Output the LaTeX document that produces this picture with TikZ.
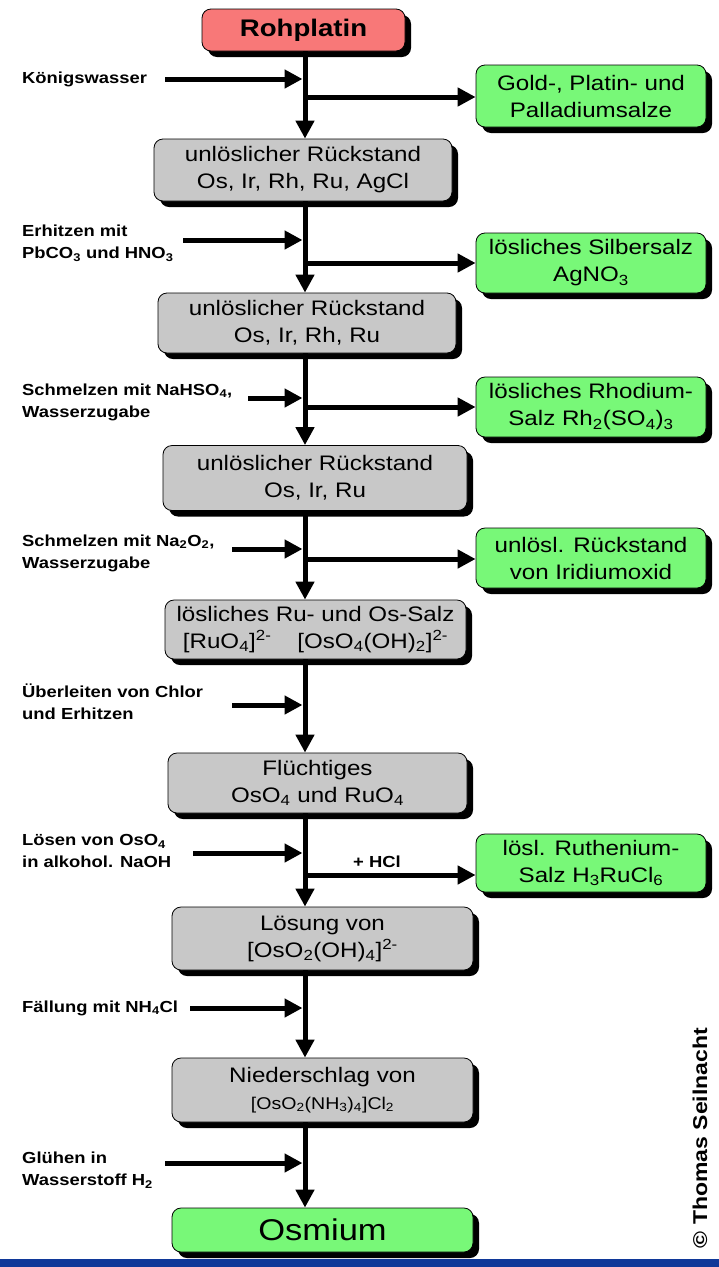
\documentclass[tikz,border=0pt]{standalone}
\usepackage{fontspec}
\setmainfont{Liberation Sans}
\newfontfamily\boxfont{Liberation Sans}[FakeStretch=1.15]
\newfontfamily\lblfont{Liberation Sans}[FakeStretch=1.15]
\usetikzlibrary{arrows.meta,shadows}
\definecolor{rohred}{RGB}{248,120,120}
\definecolor{stepgreen}{RGB}{120,248,120}
\definecolor{stepgray}{RGB}{200,200,200}
\definecolor{barblue}{RGB}{16,56,152}
\begin{document}
\begin{tikzpicture}[x=1pt,y=-1pt,every node/.style={inner sep=0pt},
  box/.style={draw,line width=0.8pt,rounded corners=9pt,align=center,
    font=\boxfont\fontsize{21}{27}\selectfont,
    drop shadow={shadow xshift=6pt,shadow yshift=-6pt,opacity=1,fill=black}},
  greybox/.style={box,fill=stepgray},
  greenbox/.style={box,fill=stepgreen,minimum width=230pt},
  lbl/.style={anchor=west,align=left,font=\lblfont\bfseries\fontsize{16}{22}\selectfont},
  feed/.style={line width=5pt,-{Triangle[length=18pt,width=18pt]}},
  tap/.style={feed,shorten >=2.5pt}]
\useasboundingbox (0,0) rectangle (719,1267);
\fill[white] (0,0) rectangle (719,1267);
\fill[barblue] (0,1259) rectangle (719,1267);
\coordinate (axis) at (305,0);
% main column
\node[box,fill=rohred,minimum width=203pt,minimum height=42pt,
  font=\boxfont\bfseries\fontsize{24}{24}\selectfont] (rohplatin) at (303.5,30) {Rohplatin};
\node[greybox,minimum width=298pt,minimum height=62pt] (r1) at (303,170) {unlöslicher Rückstand\\Os, Ir, Rh, Ru, AgCl};
\node[greybox,minimum width=298pt,minimum height=60pt] (r2) at (307,323) {unlöslicher Rückstand\\Os, Ir, Rh, Ru};
\node[greybox,minimum width=304pt,minimum height=65pt] (r3) at (315,478) {unlöslicher Rückstand\\Os, Ir, Ru};
\node[greybox,minimum width=301pt,minimum height=59pt] (r4) at (315.5,629.5) {lösliches Ru- und Os-Salz\\{}[RuO\textsubscript{4}]\textsuperscript{2-}\hspace{26pt}[OsO\textsubscript{4}(OH)\textsubscript{2}]\textsuperscript{2-}};
\node[greybox,minimum width=299pt,minimum height=60pt] (r5) at (317.5,783) {Flüchtiges\\OsO\textsubscript{4} und RuO\textsubscript{4}};
\node[greybox,minimum width=301pt,minimum height=63pt] (r6) at (322.5,938.5) {Lösung von\\{}[OsO\textsubscript{2}(OH)\textsubscript{4}]\textsuperscript{2-}};
\node[greybox,minimum width=301pt,minimum height=64pt] (r7) at (322.5,1090) {Niederschlag von\\{\fontsize{17}{20}\selectfont[OsO\textsubscript{2}(NH\textsubscript{3})\textsubscript{4}]Cl\textsubscript{2}}};
\node[box,fill=stepgreen,minimum width=301pt,minimum height=44pt,
  font=\boxfont\fontsize{30}{30}\selectfont] (osmium) at (322.5,1230) {Osmium};
% side products
\node[greenbox,minimum height=62pt] (gold) at (591,96) {Gold-, Platin- und\\Palladiumsalze};
\node[greenbox,minimum height=60pt] (silber) at (591,263) {lösliches Silbersalz\\AgNO\textsubscript{3}};
\node[greenbox,minimum height=60pt] (rhodium) at (591,407) {lösliches Rhodium-\\Salz Rh\textsubscript{2}(SO\textsubscript{4})\textsubscript{3}};
\node[greenbox,minimum height=60pt] (iridium) at (591,558) {unlösl. Rückstand\\von Iridiumoxid};
\node[greenbox,minimum height=58pt] (ruthenium) at (591,863) {lösl. Ruthenium-\\Salz H\textsubscript{3}RuCl\textsubscript{6}};
% reagents
\node[lbl] (koenig) at (22,79) {Königswasser};
\node[lbl] (erhitzen) at (22,243) {Erhitzen mit\\PbCO\textsubscript{3} und HNO\textsubscript{3}};
\node[lbl] (nahso) at (22,402) {Schmelzen mit NaHSO\textsubscript{4},\\Wasserzugabe};
\node[lbl] (naperox) at (22,553) {Schmelzen mit Na\textsubscript{2}O\textsubscript{2},\\Wasserzugabe};
\node[lbl] (chlor) at (22,702) {Überleiten von Chlor\\und Erhitzen};
\node[lbl] (naoh) at (22,851) {Lösen von OsO\textsubscript{4}\\in alkohol. NaOH};
\node[lbl] (fallung) at (22,1008) {Fällung mit NH\textsubscript{4}Cl};
\node[lbl] (gluehen) at (22,1170) {Glühen in\\Wasserstoff H\textsubscript{2}};
\node[lbl,anchor=center] (hcl) at (377,862) {+ HCl};
\node[rotate=90,font=\lblfont\bfseries\fontsize{20}{20}\selectfont] (copy) at (700,1138) {© Thomas Seilnacht};
% flow down the column
\draw[feed] (rohplatin.south -| axis) -- (r1.north -| axis);
\draw[feed] (r1.south -| axis) -- (r2.north -| axis);
\draw[feed] (r2.south -| axis) -- (r3.north -| axis);
\draw[feed] (r3.south -| axis) -- (r4.north -| axis);
\draw[feed] (r4.south -| axis) -- (r5.north -| axis);
\draw[feed] (r5.south -| axis) -- (r6.north -| axis);
\draw[feed] (r6.south -| axis) -- (r7.north -| axis);
\draw[feed] (r7.south -| axis) -- (osmium.north -| axis);
% reagent arrows
\coordinate (in1) at (165,79);
\coordinate (in2) at (183,240);
\coordinate (in3) at (248,398);
\coordinate (in4) at (232,549);
\coordinate (in5) at (232,705);
\coordinate (in6) at (193,853);
\coordinate (in7) at (190,1008);
\coordinate (in8) at (165,1163);
\foreach \n in {1,...,8} {\draw[tap] (in\n) -- (in\n -| axis);}
% branches to the side products
\coordinate (b1) at (305,97);
\coordinate (b2) at (305,263);
\coordinate (b3) at (305,407);
\coordinate (b4) at (305,559);
\coordinate (b5) at (305,875);
\draw[feed] (b1) -- (b1 -| gold.west);
\draw[feed] (b2) -- (b2 -| silber.west);
\draw[feed] (b3) -- (b3 -| rhodium.west);
\draw[feed] (b4) -- (b4 -| iridium.west);
\draw[feed] (b5) -- (b5 -| ruthenium.west);
\end{tikzpicture}
\end{document}
